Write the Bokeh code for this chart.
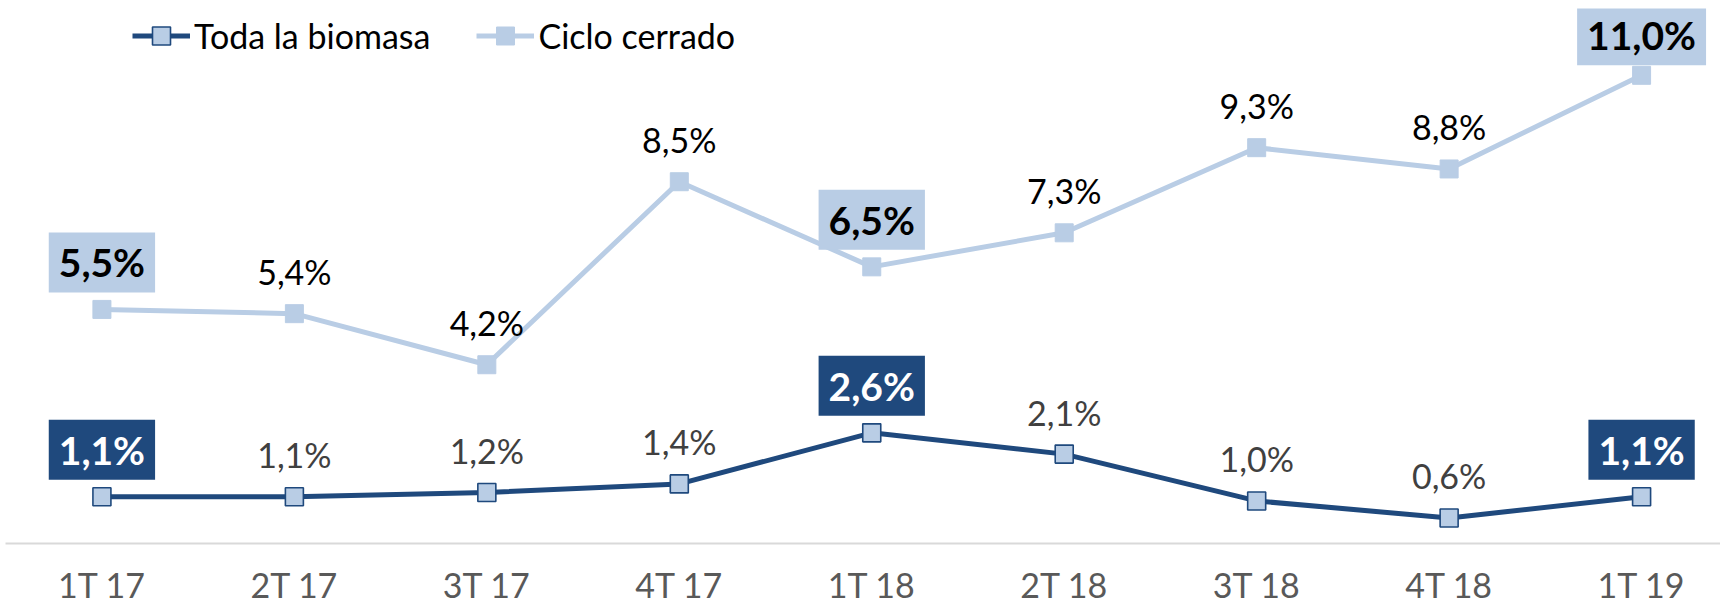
from bokeh.plotting import figure
from bokeh.models import ColumnDataSource, FixedTicker, Legend, LegendItem, Range1d
from bokeh.core.properties import value
from bokeh.embed import file_html
from bokeh.resources import INLINE

# ---- data ----
categories = ["1T 17", "2T 17", "3T 17", "4T 17", "1T 18", "2T 18", "3T 18", "4T 18", "1T 19"]
toda_biomasa = [1.1, 1.1, 1.2, 1.4, 2.6, 2.1, 1.0, 0.6, 1.1]
ciclo_cerrado = [5.5, 5.4, 4.2, 8.5, 6.5, 7.3, 9.3, 8.8, 11.0]
highlighted = ["1T 17", "1T 18", "1T 19"]
series_names = ["Toda la biomasa", "Ciclo cerrado"]

# ---- style ----
DARK = "#1F497D"
LIGHT = "#B9CDE5"
FONT = "Lato"

xs = list(range(len(categories)))


def fmt(v):
    return f"{v:.1f}".replace(".", ",") + "%"


p = figure(frame_width=1715, frame_height=535, output_backend="svg", toolbar_location=None,
           x_range=Range1d(-0.501, 8.41), y_range=Range1d(0, 12.57),
           y_axis_location=None, min_border=0, min_border_left=5, min_border_top=8,
           outline_line_color=None)
p.background_fill_color = "white"
p.border_fill_color = "white"
p.xgrid.visible = False
p.ygrid.visible = False

ax = p.xaxis[0]
ax.ticker = FixedTicker(ticks=xs)
ax.major_label_overrides = {i: c for i, c in zip(xs, categories)}
ax.major_tick_line_color = None
ax.minor_tick_line_color = None
ax.major_tick_out = 0
ax.major_tick_in = 0
ax.axis_line_color = "#D9D9D9"
ax.axis_line_width = 2
ax.major_label_text_font = FONT
ax.major_label_text_font_size = "34px"
ax.major_label_text_color = "#595959"
ax.major_label_standoff = 20

# lines
src_t = ColumnDataSource(dict(x=xs, y=toda_biomasa))
src_c = ColumnDataSource(dict(x=xs, y=ciclo_cerrado))
lc = p.line("x", "y", source=src_c, line_color=LIGHT, line_width=5)
sc = p.scatter("x", "y", source=src_c, marker="square", size=18, fill_color=LIGHT, line_color=LIGHT)
lt = p.line("x", "y", source=src_t, line_color=DARK, line_width=5)
st = p.scatter("x", "y", source=src_t, marker="square", size=18, fill_color=LIGHT, line_color=DARK, line_width=1.6)


def label_sources(vals):
    norm = dict(x=[], y=[], t=[])
    box = dict(x=[], y=[], t=[], off=[])
    for x, c, v in zip(xs, categories, vals):
        if c in highlighted:
            box["x"].append(x); box["y"].append(v); box["t"].append(fmt(v))
            box["off"].append(-40 if v == max(vals) and vals is ciclo_cerrado else -47)
        else:
            norm["x"].append(x); norm["y"].append(v); norm["t"].append(fmt(v))
    return ColumnDataSource(norm), ColumnDataSource(box)


for vals, ncol, bfill, bcol in [(ciclo_cerrado, "#000000", LIGHT, "#000000"),
                                (toda_biomasa, "#404040", DARK, "#FFFFFF")]:
    ns, bs = label_sources(vals)
    p.text("x", "y", text="t", source=ns, y_offset=-42, text_align="center",
           text_baseline="middle", text_font=value(FONT), text_font_size="34px",
           text_color=ncol)
    p.text("x", "y", text="t", source=bs, y_offset="off", text_align="center",
           text_baseline="middle", text_font=value(FONT), text_font_size="39px",
           text_font_style="bold", text_color=bcol,
           background_fill_color=bfill, border_line_color=None,
           padding=dict(left=10, right=10, top=7, bottom=7))

legend = Legend(items=[LegendItem(label=series_names[0], renderers=[lt, st]),
                       LegendItem(label=series_names[1], renderers=[lc, sc])],
                orientation="horizontal", location=(127, 485))
legend.background_fill_alpha = 0
legend.border_line_alpha = 0
legend.label_text_font = FONT
legend.label_text_font_size = "34px"
legend.label_text_color = "#000000"
legend.glyph_width = 58
legend.glyph_height = 45
legend.label_standoff = 4
legend.spacing = 46
legend.padding = 0
legend.margin = 0
p.add_layout(legend)

open("out.html", "w").write(file_html(p, INLINE))
